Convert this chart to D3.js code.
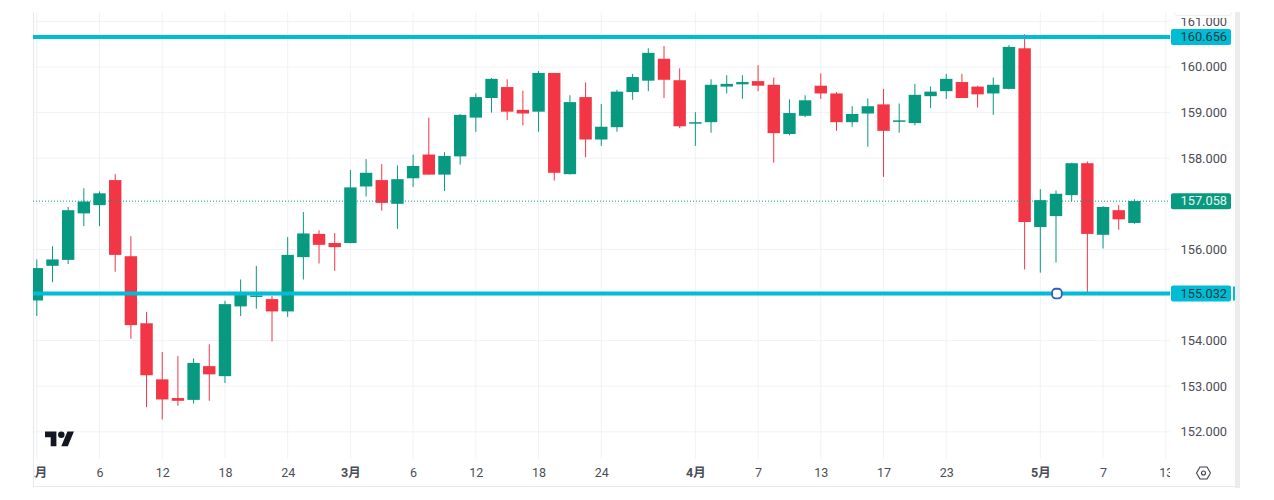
<!DOCTYPE html>
<html>
<head>
<meta charset="utf-8">
<script src="https://cdn.jsdelivr.net/npm/d3@7"></script>
<style>
html,body{margin:0;padding:0;background:#fff;}
svg{display:block;}
text{font-family:Roboto,"Noto Sans CJK SC",sans-serif;}
</style>
</head>
<body>
<svg id="chart" width="1274" height="500"></svg>
<script>
// USD/JPY style daily candles
const opens = [154.88,155.64,155.77,156.79,156.97,157.52,155.85,154.38,153.15,152.74,152.70,153.44,153.22,154.75,154.96,154.91,154.64,155.83,156.34,156.14,
  156.14,157.38,157.52,157.00,157.56,158.08,157.64,158.04,158.89,159.32,159.56,159.06,159.02,159.87,157.65,159.34,158.41,158.68,159.45,159.70,
  160.18,159.71,158.77,158.79,159.57,159.62,159.69,159.61,158.53,158.93,159.59,159.42,158.79,158.98,159.18,158.81,158.77,159.36,159.47,159.67,
  159.57,159.42,159.52,160.41,156.49,156.73,157.19,157.89,156.32,156.86,156.58];
const highs = [155.78,156.07,156.93,157.34,157.27,157.65,156.29,154.63,153.75,153.66,153.61,153.92,154.87,155.34,155.64,154.98,156.27,156.82,156.42,156.36,
  157.74,157.98,157.87,157.84,158.08,158.89,158.13,158.97,159.42,159.76,159.73,159.48,159.91,159.87,159.38,159.66,159.19,159.50,159.85,160.41,
  160.46,159.97,159.01,159.73,159.82,159.82,160.04,159.77,159.29,159.38,159.86,159.45,159.14,159.31,159.52,159.20,159.63,159.57,159.85,159.85,
  159.59,159.77,160.48,160.72,157.32,157.29,157.90,157.93,156.95,156.97,157.10];
const lows = [154.54,155.28,155.68,156.51,156.51,155.51,154.04,152.54,152.27,152.57,152.62,152.68,153.07,154.54,154.70,153.98,154.52,155.34,155.69,155.53,
  156.13,157.16,156.85,156.45,157.37,157.63,157.28,157.86,158.58,159.00,158.84,158.72,158.58,157.51,157.64,158.02,158.27,158.58,159.28,159.47,
  159.32,158.66,158.27,158.56,159.42,159.30,159.47,157.90,158.50,158.90,159.30,158.60,158.69,158.25,157.59,158.56,158.72,159.10,159.30,159.32,
  159.11,158.95,159.51,155.56,155.49,155.71,157.06,155.05,156.02,156.43,156.56];
const closes = [155.59,155.78,156.86,157.05,157.23,155.88,154.34,153.24,152.71,152.68,153.51,153.26,154.80,155.04,154.99,154.64,155.88,156.35,156.10,156.05,
  157.36,157.68,157.02,157.54,157.83,157.64,158.05,158.95,159.34,159.74,159.02,158.98,159.87,157.68,159.23,158.41,158.69,159.46,159.78,160.31,
  159.72,158.70,158.79,159.61,159.63,159.67,159.59,158.55,158.99,159.27,159.42,158.79,158.97,159.14,158.60,158.83,159.39,159.46,159.74,159.32,
  159.40,159.61,160.44,156.60,157.08,157.22,157.89,156.34,156.93,156.66,157.06];

const priceTicks = [152,153,154,155,156,157,158,159,160,161];
const priceLabels = [152,153,154,156,158,159,160,161];
const timeTicks = [0,4,8,12,16,20,24,28,32,36,42,46,50,54,58,64,68,72];
const timeLabels = ["2月","6","12","18","24","3月","6","12","18","24","4月","7","13","17","23","5月","7","13"];
const monthStarts = ["2月","3月","4月","5月"];

const levelHigh = 160.656;
const levelLow = 155.032;
const lastClose = 157.058;
const handleIndex = 65.06;

const UP = "#089981", DOWN = "#f23645", LEVEL = "#00bcd4", GRID = "#f0f2f6";

const plotL = 33, plotR = 1170, plotT = 12, plotB = 459;
const x = d3.scaleLinear().domain([0, 70]).range([36.8, 1134.4]);
const y = d3.scaleLinear().domain([152, 160]).range([431.8, 67]);

const svg = d3.select("#chart");
const defs = svg.append("defs");
defs.append("clipPath").attr("id","plot").append("rect")
  .attr("x",plotL).attr("y",plotT).attr("width",plotR-plotL).attr("height",plotB-plotT);
defs.append("clipPath").attr("id","timeClip").append("rect")
  .attr("x",plotL+1).attr("y",459).attr("width",plotR-plotL-1).attr("height",27);
defs.append("clipPath").attr("id","priceClip").append("rect")
  .attr("x",1170).attr("y",18).attr("width",66).attr("height",467);

// grid
const grid = svg.append("g").attr("clip-path","url(#plot)");
grid.selectAll("line.h").data(priceTicks).join("line")
  .attr("class","h")
  .attr("x1",plotL).attr("x2",plotR).attr("y1",d=>y(d)).attr("y2",d=>y(d))
  .attr("stroke",GRID);
grid.selectAll("line.v").data(timeTicks).join("line")
  .attr("class","v")
  .attr("x1",d=>x(d)).attr("x2",d=>x(d)).attr("y1",plotT).attr("y2",plotB)
  .attr("stroke",GRID);

// frame
svg.append("line").attr("x1",33.5).attr("x2",33.5).attr("y1",12).attr("y2",486).attr("stroke","#e6e8ec");
svg.append("line").attr("x1",33).attr("x2",1236).attr("y1",486.5).attr("y2",486.5).attr("stroke","#e6e8ec");
svg.append("rect").attr("x",1235).attr("y",12).attr("width",5).attr("height",476).attr("fill","#ececee");

// collapsed toolbar tab over the price scale
svg.append("path")
  .attr("d","M1174.5 12V12.5Q1174.5 15.5 1177.5 15.5H1229Q1232 15.5 1232 12.5V12")
  .attr("fill","#fff").attr("stroke","#eceef1");

// candles
const candleData = opens.map((o,i)=>({i,o,h:highs[i],l:lows[i],c:closes[i]}));
const candles = svg.append("g").attr("clip-path","url(#plot)");
const bw = 12.4;
candles.selectAll("line.wick").data(candleData).join("line")
  .attr("class","wick")
  .attr("x1",d=>x(d.i)).attr("x2",d=>x(d.i))
  .attr("y1",d=>y(d.h)).attr("y2",d=>y(d.l))
  .attr("stroke",d=>d.c>=d.o?UP:DOWN).attr("stroke-width",1);
candles.selectAll("rect.body").data(candleData).join("rect")
  .attr("class","body")
  .attr("x",d=>x(d.i)-bw/2).attr("width",bw)
  .attr("y",d=>y(Math.max(d.o,d.c)))
  .attr("height",d=>Math.max(1.5,Math.abs(y(d.o)-y(d.c))))
  .attr("fill",d=>d.c>=d.o?UP:DOWN);

// last price marker
svg.append("line").attr("x1",plotL).attr("x2",plotR).attr("y1",y(lastClose)).attr("y2",y(lastClose))
  .attr("stroke",UP).attr("stroke-width",1).attr("stroke-dasharray","1 2");

// horizontal levels
svg.selectAll("line.level").data([levelHigh,levelLow]).join("line")
  .attr("class","level")
  .attr("x1",plotL).attr("x2",plotR).attr("y1",d=>y(d)).attr("y2",d=>y(d))
  .attr("stroke",LEVEL).attr("stroke-width",4);

// drag handle on the lower level
svg.append("rect")
  .attr("x",x(handleIndex)-4.8).attr("y",y(levelLow)-4.8).attr("width",9.6).attr("height",9.6).attr("rx",3.5)
  .attr("fill","#fff").attr("stroke","#2f5fc4").attr("stroke-width",1.8);

// price axis
const priceAxis = d3.axisRight(y).tickValues(priceLabels).tickSize(0).tickPadding(0)
  .tickFormat(d3.format(".3f"));
const pa = svg.append("g").attr("clip-path","url(#priceClip)")
  .append("g").attr("transform","translate(1180.5,0)").call(priceAxis);
pa.select(".domain").remove();
pa.selectAll("text").attr("font-size",12.8).attr("fill","#4a4d55").attr("dy","0.3em");

// price badges
const badges = [
  {v:levelHigh,bg:LEVEL,fg:"#1c3b44"},
  {v:lastClose,bg:UP,fg:"#e8f5f2"},
  {v:levelLow,bg:LEVEL,fg:"#1c3b44"}
];
const bg = svg.selectAll("g.badge").data(badges).join("g").attr("class","badge")
  .attr("transform",d=>`translate(1171,${y(d.v)})`);
bg.append("rect").attr("x",0).attr("y",-8).attr("width",60).attr("height",16).attr("rx",2).attr("fill",d=>d.bg);
bg.append("text").attr("x",9.5).attr("dy","0.33em").attr("font-size",12.8).attr("fill",d=>d.fg)
  .text(d=>d3.format(".3f")(d.v));
svg.append("rect").attr("x",1233).attr("y",y(levelLow)-7).attr("width",2).attr("height",14).attr("fill",LEVEL);

// time axis
const labelOf = new Map(timeTicks.map((t,i)=>[t,timeLabels[i]]));
const timeAxis = d3.axisBottom(x).tickValues(timeTicks).tickSize(0).tickPadding(0)
  .tickFormat(d=>labelOf.get(d));
const ta = svg.append("g").attr("clip-path","url(#timeClip)")
  .append("g").attr("transform","translate(0,468.5)").call(timeAxis);
ta.select(".domain").remove();
ta.selectAll("text").attr("font-size",12.5).attr("fill","#4a4d55")
  .attr("font-weight",d=>monthStarts.includes(labelOf.get(d))?700:400)
  .attr("y",0).attr("dy","0.71em");

// TradingView mark
const logo = svg.append("g").attr("transform","translate(45,428.2) scale(0.815)").attr("fill","#131722");
logo.append("path").attr("d","M14 22H7V11H0V4h14v18zM28 22h-8l7.5-18h8L28 22z");
logo.append("circle").attr("cx",20).attr("cy",8).attr("r",4);

// settings button in the axis corner
const gear = svg.append("g").attr("transform","translate(1203.5,473)").attr("fill","none").attr("stroke","#3c3f48");
gear.append("path").attr("stroke-width",1.1)
  .attr("d",d3.line()(d3.range(7).map(k=>{const a=k*Math.PI/3;return [7*Math.cos(a),7*Math.sin(a)];})));
gear.append("circle").attr("r",2).attr("stroke-width",1.1);
</script>
</body>
</html>
